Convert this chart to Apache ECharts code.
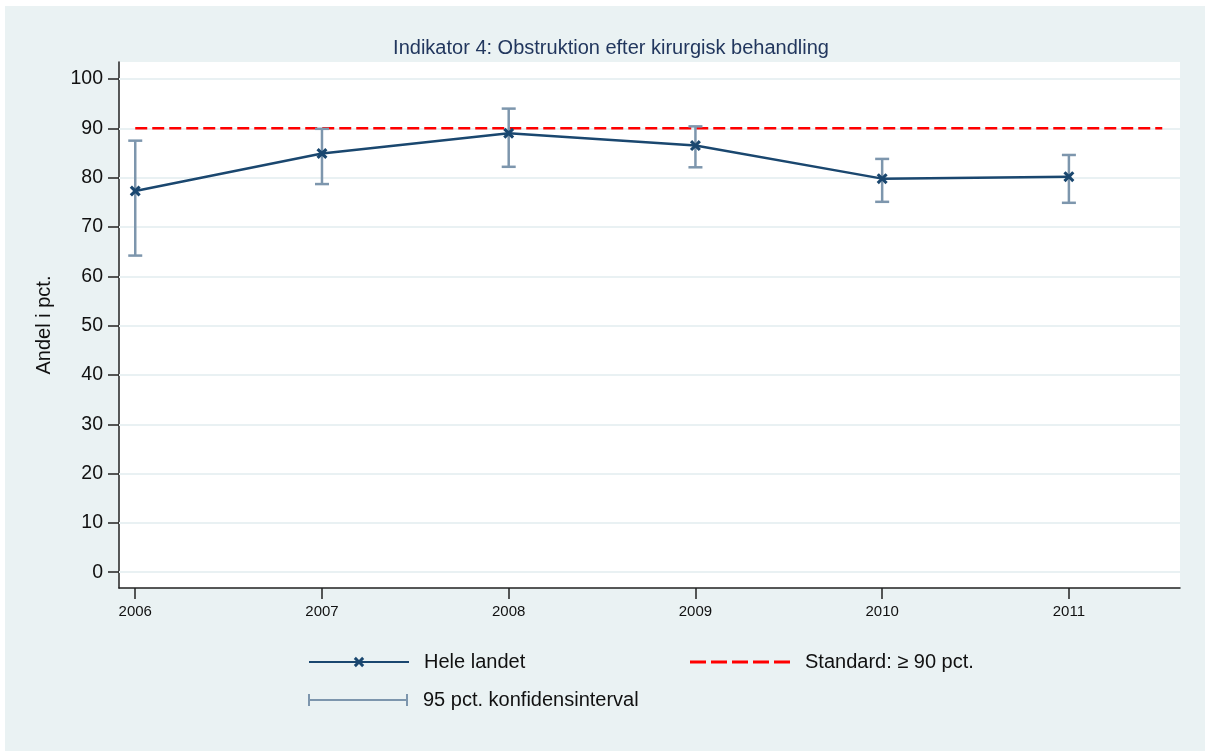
<!DOCTYPE html>
<html>
<head>
<meta charset="utf-8">
<script src="https://cdn.jsdelivr.net/npm/echarts@6/dist/echarts.min.js"></script>
<style>
  html, body { margin: 0; padding: 0; background: #ffffff; }
  #chart { position: absolute; left: 5px; top: 6px; width: 1200px; height: 745px; }
</style>
</head>
<body>
<div id="chart"></div>
<script>
// ---- data ----
const years = [2006, 2007, 2008, 2009, 2010, 2011];
const share = [77.3, 84.9, 89.0, 86.5, 79.8, 80.2];
const ciLow = [64.2, 78.7, 82.2, 82.1, 75.1, 74.9];
const ciHigh = [87.5, 89.9, 94.0, 90.4, 83.8, 84.6];
const standardValue = 90;
const standardSpan = [2006, 2011.5];
const yTicks = [0, 10, 20, 30, 40, 50, 60, 70, 80, 90, 100];
const xTicks = [2006, 2007, 2008, 2009, 2010, 2011];

const titleText = 'Indikator 4: Obstruktion efter kirurgisk behandling';
const yName = 'Andel i pct.';
const nameMain = 'Hele landet';
const nameStd = 'Standard: \u2265 90 pct.';
const nameCI = '95 pct. konfidensinterval';

// ---- styles ----
const FONT = 'Liberation Sans, Arial, sans-serif';
const lineColor = '#1a476f';
const ciColor = '#7d96ad';
const stdColor = '#ff0000';
const gridColor = '#e9f1f3';
const axisColor = '#222222';
const xSymbol = 'path://M2,0L5,3L8,0L10,2L7,5L10,8L8,10L5,7L2,10L0,8L3,5L0,2Z';

const chart = echarts.init(document.getElementById('chart'));

const mainData = years.map((y, i) => [y, share[i]]);
const ciData = years.map((y, i) => [y, ciLow[i], ciHigh[i]]);
const stdData = standardSpan.map(x => [x, standardValue]);

const legendText = { fontFamily: FONT, fontSize: 20, color: '#111111', padding: [0, 0, 0, 10] };

const option = {
  backgroundColor: '#eaf2f3',
  animation: false,
  title: {
    text: titleText,
    left: 601, top: 27,
    textAlign: 'center',
    textStyle: { fontFamily: FONT, fontSize: 20, fontWeight: 'normal', color: '#22375e' }
  },
  grid: {
    left: 114, top: 56, right: 25, bottom: 163,
    show: true, backgroundColor: '#ffffff', borderWidth: 0
  },
  xAxis: {
    type: 'value',
    min: 2005.913, max: 2011.595,
    axisLine: { show: true, onZero: false, lineStyle: { color: axisColor, width: 1.5 } },
    axisTick: { show: true, length: 11, customValues: xTicks, lineStyle: { color: axisColor, width: 1.5 } },
    axisLabel: { customValues: xTicks, margin: 16, fontFamily: FONT, fontSize: 15, color: '#111111',
                 formatter: v => String(v) },
    splitLine: { show: false }
  },
  yAxis: {
    type: 'value',
    min: -3.2, max: 103.45,
    name: yName,
    nameLocation: 'middle',
    nameGap: 65,
    nameTextStyle: { fontFamily: FONT, fontSize: 20, color: '#111111' },
    axisLine: { show: true, lineStyle: { color: axisColor, width: 1.5 } },
    axisTick: { show: true, length: 11, customValues: yTicks, lineStyle: { color: axisColor, width: 1.5 } },
    axisLabel: { customValues: yTicks, margin: 16, fontFamily: FONT, fontSize: 19.5, color: '#111111' },
    splitLine: { show: false }
  },
  legend: [
    { data: [nameMain], left: 298, top: 641, itemWidth: 100, itemHeight: 13, padding: 5,
      textStyle: legendText, selectedMode: false },
    { data: [{ name: nameStd, icon: 'path://M0,0h16v3h-16z M21,0h16v3h-16z M42,0h16v3h-16z M63,0h16v3h-16z M84,0h16v3h-16z' }],
      left: 680, top: 641, itemWidth: 100, itemHeight: 3, padding: 5,
      textStyle: legendText, selectedMode: false, itemStyle: { color: stdColor } },
    { data: [{ name: nameCI, icon: 'path://M0,0L2,0L2,5L98,5L98,0L100,0L100,12L98,12L98,7L2,7L2,12L0,12Z' }],
      left: 298, top: 679, itemWidth: 100, itemHeight: 12, padding: 5,
      textStyle: legendText, selectedMode: false, itemStyle: { color: ciColor } }
  ],
  series: [
    {
      name: 'grid',
      type: 'line',
      data: [],
      z: 1,
      silent: true,
      markLine: {
        z: 1,
        silent: true,
        symbol: ['none', 'none'],
        label: { show: false },
        lineStyle: { color: gridColor, width: 2, type: 'solid' },
        data: yTicks.map(v => ({ yAxis: v }))
      }
    },
    {
      name: nameStd,
      type: 'line',
      data: stdData,
      z: 2,
      symbol: 'none',
      silent: true,
      lineStyle: { color: stdColor, width: 2.5, type: [12, 5] },
      itemStyle: { color: stdColor }
    },
    {
      name: nameCI,
      type: 'custom',
      data: ciData,
      z: 3,
      silent: true,
      encode: { x: 0, y: [1, 2] },
      itemStyle: { color: ciColor },
      renderItem: function (params, api) {
        const x = api.value(0);
        const lo = api.coord([x, api.value(1)]);
        const hi = api.coord([x, api.value(2)]);
        const hw = 7;
        const st = { stroke: ciColor, lineWidth: 2.5, fill: null };
        return {
          type: 'group',
          children: [
            { type: 'line', shape: { x1: lo[0], y1: lo[1], x2: hi[0], y2: hi[1] }, style: st },
            { type: 'line', shape: { x1: lo[0] - hw, y1: lo[1], x2: lo[0] + hw, y2: lo[1] }, style: st },
            { type: 'line', shape: { x1: hi[0] - hw, y1: hi[1], x2: hi[0] + hw, y2: hi[1] }, style: st }
          ]
        };
      }
    },
    {
      name: nameMain,
      type: 'line',
      data: mainData,
      z: 4,
      silent: true,
      symbol: xSymbol,
      symbolSize: 11,
      showSymbol: true,
      lineStyle: { color: lineColor, width: 2.5 },
      itemStyle: { color: lineColor }
    }
  ]
};
chart.setOption(option);
</script>
</body>
</html>
